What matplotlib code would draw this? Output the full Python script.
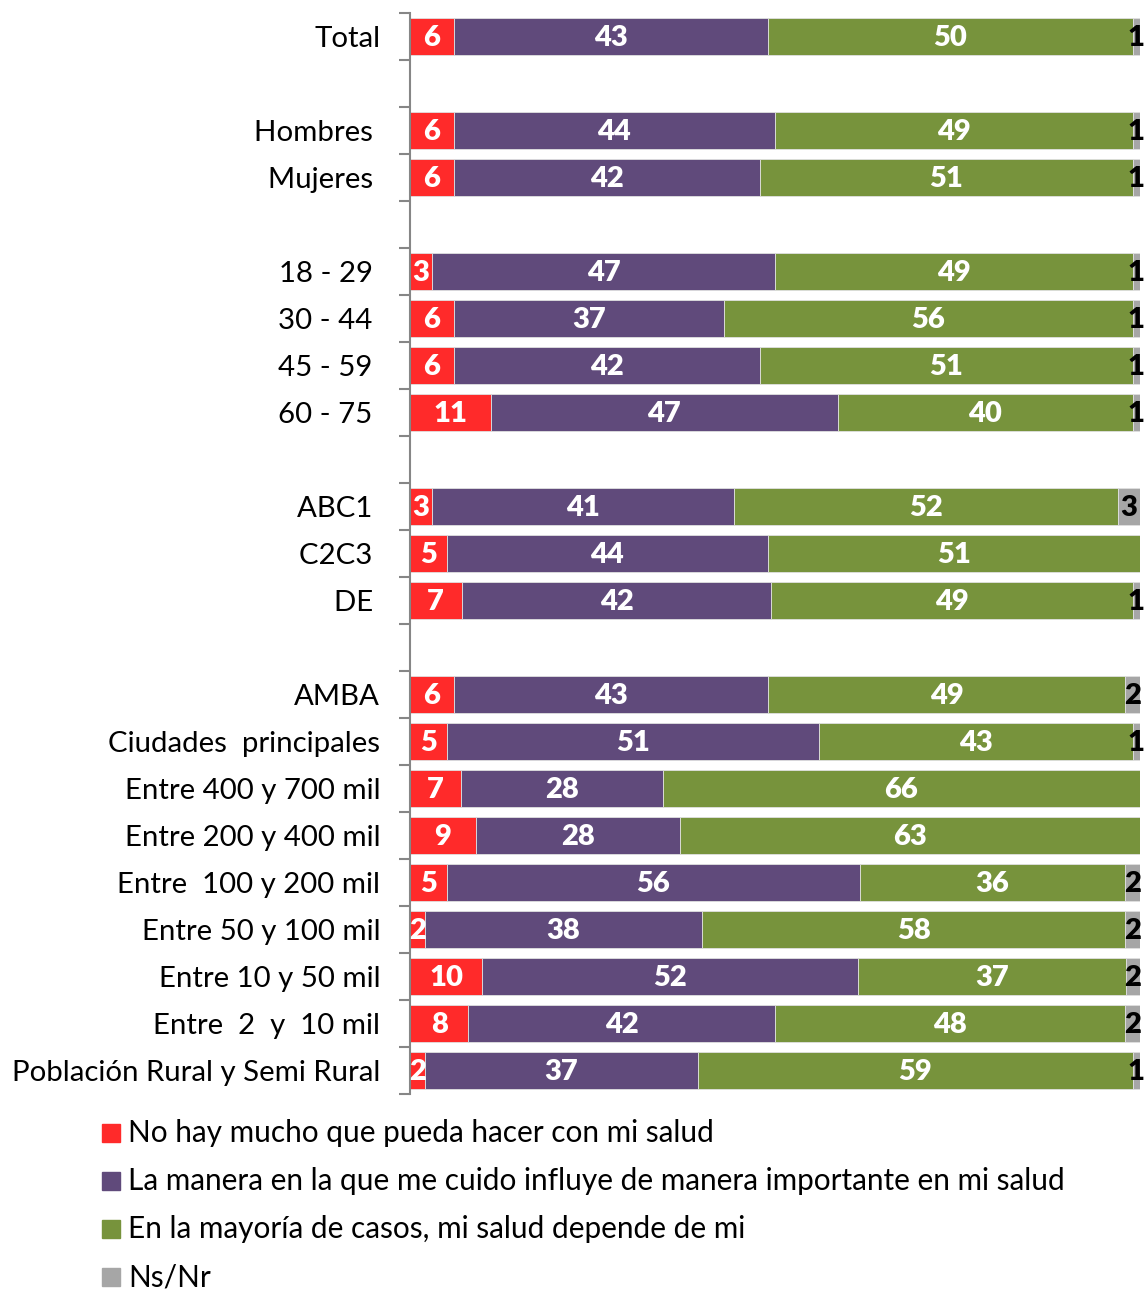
import matplotlib.pyplot as plt
import numpy as np
from matplotlib.patches import Rectangle

plt.rcParams['font.family'] = ['Lato', 'DejaVu Sans']

# Filas del gráfico ('' = separación entre bloques)
categorias = ['Total', '',
              'Hombres ', 'Mujeres ', '',
              '18 - 29 ', '30 - 44 ', '45 - 59 ', '60 - 75 ', '',
              'ABC1 ', 'C2C3 ', 'DE ', '',
              'AMBA', 'Ciudades  principales', 'Entre 400 y 700 mil',
              'Entre 200 y 400 mil', 'Entre  100 y 200 mil', 'Entre 50 y 100 mil',
              'Entre 10 y 50 mil', 'Entre  2  y  10 mil', 'Población Rural y Semi Rural']

nada = [6, np.nan, 6, 6, np.nan, 3, 6, 6, 11, np.nan, 3, 5, 7, np.nan,
        6, 5, 7, 9, 5, 2, 10, 8, 2]
cuido = [43, np.nan, 44, 42, np.nan, 47, 37, 42, 47, np.nan, 41, 44, 42, np.nan,
         43, 51, 28, 28, 56, 38, 52, 42, 37]
depende = [50, np.nan, 49, 51, np.nan, 49, 56, 51, 40, np.nan, 52, 51, 49, np.nan,
           49, 43, 66, 63, 36, 58, 37, 48, 59]
nsnr = [1, np.nan, 1, 1, np.nan, 1, 1, 1, 1, np.nan, 3, 0, 1, np.nan,
        2, 1, 0, 0, 2, 2, 2, 2, 1]

series = [nada, cuido, depende, nsnr]
nombres = ['No hay mucho que pueda hacer con mi salud',
           'La manera en la que me cuido influye de manera importante en mi salud',
           'En la mayoría de casos, mi salud depende de mi',
           'Ns/Nr']
colores = ['#ff2a2a', '#604a7b', '#77933c', '#a6a6a6']
color_texto = ['white', 'white', 'white', 'black']

W, H = 1148, 1290
fig = plt.figure(figsize=(W / 100, H / 100), dpi=100)
ax = fig.add_axes([410 / W, 1 - 1094 / H, 730 / W, (1094 - 13) / H])

datos = np.array(series, dtype=float)
totales = np.nansum(datos, axis=0)
n = len(categorias)
y = np.arange(n)

izq = np.zeros(n)
for vals, col, ctxt in zip(datos, colores, color_texto):
    pct = np.where(totales > 0, vals / np.where(totales > 0, totales, 1) * 100, 0)
    pct = np.nan_to_num(pct)
    ax.barh(y, pct, left=izq, height=0.8, color=col, edgecolor='#e0e0e0', linewidth=0.6)
    for i in range(n):
        v = vals[i]
        if np.isnan(v) or v == 0:
            continue
        ax.text(izq[i] + pct[i] / 2, y[i] + 0.04, f'{int(v)}', ha='center', va='center',
                color=ctxt, fontsize=21, fontweight='heavy', clip_on=False)
    izq += pct

ax.set_xlim(0, 100)
ax.set_ylim(n - 0.5, -0.5)
ax.set_xticks([])
for s in ['top', 'right', 'bottom']:
    ax.spines[s].set_visible(False)
ax.spines['left'].set_color('#868686')
ax.spines['left'].set_linewidth(1.5)

# marcas en los límites de cada fila, etiquetas en el centro
ax.set_yticks(np.arange(n + 1) - 0.5)
ax.set_yticklabels([])
ax.tick_params(axis='y', which='major', length=8, width=1.5, color='#868686')
ax.set_yticks(y, minor=True)
ax.set_yticklabels(categorias, minor=True, fontsize=21.2)
ax.tick_params(axis='y', which='minor', length=0, pad=21.5)

# leyenda
for k, (nom, col) in enumerate(zip(nombres, colores)):
    yc = 1133 + 48 * k
    fig.patches.append(Rectangle((102 / W, 1 - (yc + 9) / H), 18 / W, 18 / H,
                                 transform=fig.transFigure, color=col))
    fig.text(128 / W, 1 - yc / H, nom, fontsize=21.4, va='center', ha='left')

fig.savefig('out.png', dpi=100)
